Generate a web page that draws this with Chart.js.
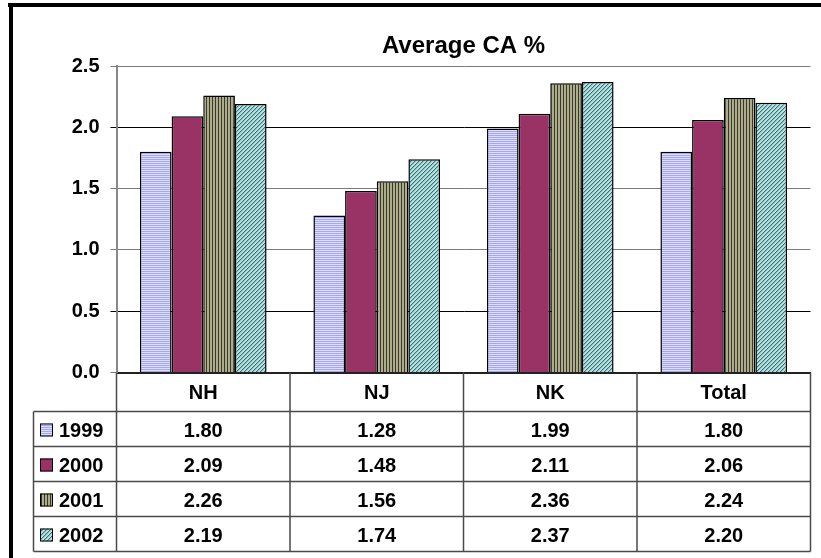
<!DOCTYPE html>
<html>
<head>
<meta charset="utf-8">
<title>Average CA %</title>
<script src="https://cdn.jsdelivr.net/npm/chart.js@4/dist/chart.umd.min.js"></script>
<style>
  html, body { margin: 0; padding: 0; background: #ffffff; }
  #wrap { position: relative; width: 821px; height: 558px; }
</style>
</head>
<body>
<div id="wrap"><canvas id="c" width="821" height="558"></canvas></div>
<script>
// ---- data ----
const categories = ['NH', 'NJ', 'NK', 'Total'];
const years = ['1999', '2000', '2001', '2002'];
const values1999 = [1.80, 1.28, 1.99, 1.80];
const values2000 = [2.09, 1.48, 2.11, 2.06];
const values2001 = [2.26, 1.56, 2.36, 2.24];
const values2002 = [2.19, 1.74, 2.37, 2.20];
const yTicks = [0, 0.5, 1.0, 1.5, 2.0, 2.5];
const chartTitle = 'Average CA %';

const FONT = "'Liberation Sans', Arial, Helvetica, sans-serif";
Chart.defaults.font.family = FONT;
Chart.defaults.color = '#000';

const canvas = document.getElementById('c');
const mainCtx = canvas.getContext('2d');

// small tiled fills for the series
function makePattern(w, h, paint) {
  const t = document.createElement('canvas');
  t.width = w; t.height = h;
  const g = t.getContext('2d');
  paint(g);
  return mainCtx.createPattern(t, 'repeat');
}
const fill1999 = makePattern(1, 2, g => {
  g.fillStyle = '#dedeff'; g.fillRect(0, 0, 1, 1);
  g.fillStyle = '#a6a6ec'; g.fillRect(0, 1, 1, 1);
});
const fill2000 = '#993366';
const fill2001 = makePattern(3, 1, g => {
  g.fillStyle = '#adad8a'; g.fillRect(0, 0, 2, 1);
  g.fillStyle = '#38382e'; g.fillRect(2, 0, 1, 1);
});
const fill2002 = makePattern(4, 4, g => {
  g.fillStyle = '#b4e2e2'; g.fillRect(0, 0, 4, 4);
  for (let i = 0; i < 4; i++) {
    g.fillStyle = '#3f7272'; g.fillRect(i, 3 - i, 1, 1);
    g.fillStyle = '#8cbcbc'; g.fillRect(i, (4 - i) % 4, 1, 1);
  }
});

const seriesValues = [values1999, values2000, values2001, values2002];
const seriesFills = [fill1999, fill2000, fill2001, fill2002];

// ---- table / frame geometry ----
const HEADER_H = 39;
const ROW_H = 35;
const TABLE_LEFT = 33.5;
const KEY_X = 40;
const KEY_SIZE = 13;
const YEAR_X = 59;
const TEXT_FONT = 'bold 20px ' + FONT;

const tablePlugin = {
  id: 'dataTable',
  afterDraw(chart) {
    const ctx = chart.ctx;
    const area = chart.chartArea;
    const x = chart.scales.x;
    const top = area.bottom;
    const headerBottom = top + HEADER_H;
    const bottom = headerBottom + ROW_H * years.length;
    const edges = [];
    for (let i = 0; i <= categories.length; i++) edges.push(x.getPixelForValue(i - 0.5));

    ctx.save();
    // outer frame
    ctx.fillStyle = '#000';
    ctx.fillRect(8, 3, 813, 4);
    ctx.fillRect(9, 3, 4, 555);

    // title
    ctx.font = 'bold 24px ' + FONT;
    ctx.textAlign = 'center';
    ctx.textBaseline = 'alphabetic';
    ctx.fillText(chartTitle, (area.left + area.right) / 2, 53);

    // table grid
    ctx.strokeStyle = '#4a4a4a';
    ctx.lineWidth = 1.5;
    ctx.beginPath();
    edges.forEach(ex => {
      ctx.moveTo(ex, top);
      ctx.lineTo(ex, bottom);
    });
    ctx.moveTo(TABLE_LEFT, headerBottom);
    ctx.lineTo(TABLE_LEFT, bottom);
    for (let r = 0; r <= years.length; r++) {
      const yy = headerBottom + r * ROW_H;
      ctx.moveTo(TABLE_LEFT, yy);
      ctx.lineTo(edges[edges.length - 1], yy);
    }
    ctx.stroke();

    // header labels
    ctx.fillStyle = '#000';
    ctx.font = TEXT_FONT;
    ctx.textAlign = 'center';
    ctx.textBaseline = 'middle';
    categories.forEach((cat, i) => {
      ctx.fillText(cat, x.getPixelForValue(i), top + HEADER_H / 2 + 1);
    });

    // rows: key, year, values
    years.forEach((yr, r) => {
      const cy = headerBottom + r * ROW_H + ROW_H / 2;
      ctx.fillStyle = seriesFills[r];
      ctx.fillRect(KEY_X, cy - KEY_SIZE / 2 + 1, KEY_SIZE, KEY_SIZE);
      ctx.strokeStyle = '#000';
      ctx.lineWidth = 1;
      ctx.strokeRect(KEY_X + 0.5, cy - KEY_SIZE / 2 + 1.5, KEY_SIZE - 1, KEY_SIZE - 1);
      ctx.fillStyle = '#000';
      ctx.textAlign = 'left';
      ctx.fillText(yr, YEAR_X, cy + 2);
      ctx.textAlign = 'center';
      seriesValues[r].forEach((v, i) => {
        ctx.fillText(v.toFixed(2), x.getPixelForValue(i), cy + 2);
      });
    });
    ctx.restore();
  }
};

new Chart(canvas, {
  type: 'bar',
  data: {
    labels: categories,
    datasets: years.map((yr, i) => ({
      label: yr,
      data: seriesValues[i],
      backgroundColor: seriesFills[i],
      borderColor: '#000',
      borderWidth: 1.5,
      categoryPercentage: 0.73,
      barPercentage: 1.0
    }))
  },
  options: {
    responsive: false,
    animation: false,
    devicePixelRatio: 1,
    layout: { padding: { top: 66, right: 10.5, bottom: 185.5, left: 0 } },
    plugins: {
      legend: { display: false },
      title: { display: false },
      tooltip: { enabled: false }
    },
    scales: {
      x: {
        grid: { display: false, drawTicks: false },
        ticks: { display: false },
        border: { display: true, color: '#222', width: 2 },
        afterFit: s => { s.height = 0; }
      },
      y: {
        min: 0,
        max: 2.5,
        afterBuildTicks: s => { s.ticks = yTicks.map(v => ({ value: v })); },
        afterFit: s => { s.width = 116.5; },
        ticks: {
          font: { size: 20, weight: 'bold' },
          color: '#000',
          padding: 11,
          callback: v => Number(v).toFixed(1)
        },
        grid: {
          color: c => (c.tick && (c.tick.value === 2.0 || c.tick.value === 0.5)) ? '#000' : '#7a7a7a',
          lineWidth: 1,
          tickLength: 6,
          drawTicks: true
        },
        border: { display: true, color: '#888', width: 2 }
      }
    }
  },
  plugins: [tablePlugin]
});
</script>
</body>
</html>
